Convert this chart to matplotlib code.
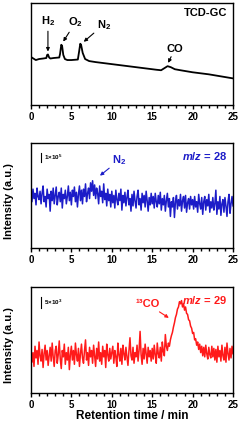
import numpy as np
import matplotlib
matplotlib.use('Agg')
import matplotlib.pyplot as plt
from matplotlib.ticker import MultipleLocator

plt.rcParams['font.family'] = 'Liberation Sans'
plt.rcParams['font.weight'] = 'bold'
plt.rcParams['mathtext.fontset'] = 'custom'
plt.rcParams['mathtext.rm'] = 'Liberation Sans:bold'
plt.rcParams['mathtext.it'] = 'Liberation Sans:italic:bold'
plt.rcParams['mathtext.bf'] = 'Liberation Sans:bold'

# --- TCD-GC trace (retention time / signal) ---
tcd_t = [0, 0.3, 0.6, 1.0, 1.5, 1.9, 2.0, 2.1, 2.25, 2.4, 2.8, 3.5, 3.6, 3.75, 3.85, 4.0,
         4.2, 4.5, 5.0, 5.8, 5.95, 6.1, 6.2, 6.4, 6.7, 7.2, 8, 10, 12, 14, 15.5, 16.1,
         16.5, 16.9, 17.3, 17.8, 18.5, 20, 22, 25]
tcd_y = [47, 45.5, 44, 45, 45.5, 46, 49, 49.5, 46.5, 45.5, 46, 46.5, 50, 59, 58, 49,
         45, 44, 44, 44.5, 52, 60, 59, 51, 45, 43, 42, 40, 38, 36, 34.5, 34,
         36, 38, 37, 35, 34, 32, 30, 26]

# --- MS m/z = 28 (sampled every 0.125 min) ---
ms28 = [51, 44, 56, 47, 52, 41, 57, 49, 46, 54, 42, 52, 59, 44, 49, 39, 56, 47, 51, 35,
        54, 45, 57, 42, 50, 58, 41, 49, 53, 44, 57, 38, 51, 47, 55, 42, 49, 59, 45, 53,
        41, 55, 49, 58, 44, 53, 39, 51, 59, 45, 55, 42, 56, 49, 61, 44, 52, 57, 47, 62,
        54, 64, 50, 60, 47, 57, 52, 42, 59, 49, 54, 43, 61, 46, 52, 40, 56, 45, 51, 39,
        54, 43, 50, 38, 55, 46, 41, 52, 45, 56, 36, 50, 43, 53, 40, 48, 55, 41, 47, 35,
        51, 40, 54, 45, 38, 49, 55, 41, 47, 36, 52, 43, 50, 39, 54, 45, 35, 48, 41, 52,
        42, 49, 38, 52, 44, 39, 50, 42, 53, 36, 47, 41, 50, 35, 45, 52, 39, 47, 30, 44,
        39, 48, 29, 44, 50, 37, 46, 40, 51, 35, 45, 49, 38, 50, 34, 43, 47, 37, 49, 41,
        46, 37, 49, 39, 44, 34, 51, 42, 37, 48, 32, 44, 49, 36, 46, 40, 51, 34, 44, 38,
        48, 36, 42, 55, 32, 44, 37, 49, 31, 42, 46, 34, 48, 40, 30, 44, 51, 33, 42, 49,
        40]

# --- MS m/z = 29 (sampled every 0.125 min) ---
ms29 = [42, 29, 38, 25, 44, 33, 40, 27, 48, 35, 30, 41, 24, 37, 45, 31, 40, 26, 35, 43,
        30, 47, 34, 25, 40, 44, 28, 36, 49, 32, 23, 40, 34, 46, 27, 38, 31, 43, 22, 36,
        44, 31, 40, 27, 47, 36, 30, 42, 25, 37, 46, 33, 28, 40, 50, 31, 38, 26, 43, 34,
        40, 28, 45, 35, 25, 42, 32, 48, 30, 38, 27, 44, 34, 40, 24, 46, 36, 30, 42, 32,
        38, 44, 28, 40, 34, 25, 47, 36, 30, 42, 27, 45, 37, 31, 43, 34, 26, 40, 52, 35,
        31, 43, 28, 38, 34, 45, 30, 40, 58, 36, 27, 42, 32, 46, 37, 28, 43, 34, 40, 30,
        42, 32, 45, 36, 28, 47, 37, 33, 43, 30, 48, 39, 35, 55, 44, 40, 47, 44, 50, 54,
        57, 62, 66, 71, 74, 79, 81, 86, 84, 87, 81, 84, 78, 81, 75, 74, 69, 68, 63, 61,
        56, 57, 50, 51, 45, 48, 41, 46, 38, 44, 35, 43, 34, 45, 37, 32, 43, 36, 33, 44,
        34, 42, 31, 41, 29, 44, 34, 40, 30, 45, 35, 31, 43, 29, 47, 37, 31, 42, 33, 44,
        37]

ms_t = np.linspace(0, 25, len(ms28))

fig = plt.figure(figsize=(2.4, 4.23), dpi=100)

def style_axes(ax):
    ax.set_xlim(0, 25)
    ax.set_ylim(0, 100)
    ax.xaxis.set_major_locator(MultipleLocator(5))
    ax.xaxis.set_minor_locator(MultipleLocator(1))
    ax.tick_params(axis='x', which='major', direction='out', length=3, width=1,
                   labelsize=7, pad=2)
    ax.tick_params(axis='x', which='minor', direction='out', length=1.8, width=1)
    ax.set_yticks([])
    for s in ax.spines.values():
        s.set_linewidth(1.0)
    for lab in ax.get_xticklabels():
        lab.set_fontweight('bold')

def arrow(c):
    return dict(arrowstyle='-|>', color=c, lw=0.8, shrinkA=0, shrinkB=1,
                mutation_scale=5)

# Panel 1: TCD-GC
ax1 = fig.add_axes([0.129, 0.752, 0.842, 0.241])
ax1.plot(tcd_t, tcd_y, color='black', lw=1.3)
style_axes(ax1)
ax1.text(0.97, 0.95, 'TCD-GC', transform=ax1.transAxes, ha='right', va='top',
         fontsize=8, fontweight='bold')
ax1.annotate('H$_2$', xy=(2.1, 51), xytext=(2.1, 75), ha='center', va='bottom',
             fontsize=8, arrowprops=arrow('black'))
ax1.annotate('O$_2$', xy=(3.9, 61), xytext=(5.5, 74), ha='center', va='bottom',
             fontsize=8, arrowprops=arrow('black'))
ax1.annotate('N$_2$', xy=(6.4, 61), xytext=(9.0, 72), ha='center', va='bottom',
             fontsize=8, arrowprops=arrow('black'))
ax1.annotate('CO', xy=(16.9, 40), xytext=(17.8, 50), ha='center', va='bottom',
             fontsize=8, arrowprops=arrow('black'))

# Panel 2: m/z = 28
blue = '#1c1cc8'
ax2 = fig.add_axes([0.129, 0.414, 0.842, 0.248])
ax2.plot(ms_t, ms28, color=blue, lw=1.1)
style_axes(ax2)
ax2.set_ylabel('Intensity (a.u.)', fontsize=8, fontweight='bold')
ax2.yaxis.set_label_coords(-0.085, 0.45)
ax2.text(0.97, 0.93, r'$\mathit{m/z}$ = 28', transform=ax2.transAxes, ha='right',
         va='top', fontsize=8, color=blue)
ax2.plot([0.05, 0.05], [0.82, 0.905], transform=ax2.transAxes, color='black', lw=0.8)
ax2.text(0.065, 0.865, r'1×10$^5$', transform=ax2.transAxes, fontsize=4.5,
         va='center', ha='left')
ax2.annotate('N$_2$', xy=(8.4, 68), xytext=(10.9, 77), ha='center', va='bottom',
             fontsize=8, color=blue, arrowprops=arrow(blue))

# Panel 3: m/z = 29
red = '#ff1a1a'
ax3 = fig.add_axes([0.129, 0.071, 0.842, 0.251])
ax3.plot(ms_t, ms29, color=red, lw=1.1)
style_axes(ax3)
ax3.set_ylabel('Intensity (a.u.)', fontsize=8, fontweight='bold')
ax3.yaxis.set_label_coords(-0.085, 0.45)
ax3.set_xlabel('Retention time / min', fontsize=8.5, fontweight='bold', labelpad=0)
ax3.text(0.97, 0.93, r'$\mathit{m/z}$ = 29', transform=ax3.transAxes, ha='right',
         va='top', fontsize=8, color=red)
ax3.plot([0.05, 0.05], [0.80, 0.905], transform=ax3.transAxes, color='black', lw=0.8)
ax3.text(0.065, 0.855, r'5×10$^3$', transform=ax3.transAxes, fontsize=4.5,
         va='center', ha='left')
ax3.annotate('¹³CO', xy=(17.2, 70), xytext=(14.4, 79), ha='center', va='bottom',
             fontsize=8, color=red, arrowprops=arrow(red))

fig.savefig('out.png', dpi=100)
